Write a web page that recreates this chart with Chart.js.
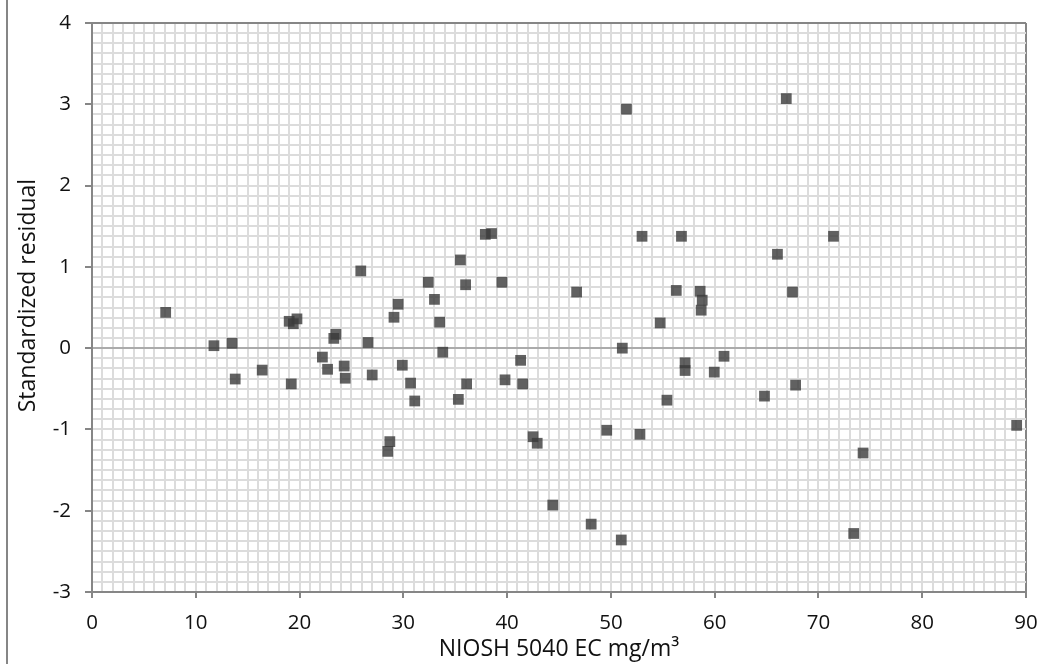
<!DOCTYPE html>
<html>
<head>
<meta charset="utf-8">
<script src="https://cdn.jsdelivr.net/npm/chart.js@4.4.1/dist/chart.umd.min.js"></script>
<style>
  html, body { margin: 0; padding: 0; background: #fff; }
  #wrap { position: relative; width: 1045px; height: 664px; }
  #edge { position: absolute; left: 6px; top: 0; width: 2px; height: 664px; background: #868686; }
</style>
</head>
<body>
<div id="wrap">
  <div id="edge"></div>
  <canvas id="residualChart" width="1045" height="664"></canvas>
</div>
<script>
// NIOSH 5040 EC (mg/m3) vs standardized residual
const ecValues = [
  7.1, 11.75, 13.5, 13.8, 16.4, 19.2, 19.0, 19.4, 19.75, 22.2,
  22.7, 23.5, 23.3, 24.3, 24.4, 25.9, 26.6, 27.0, 28.7, 28.5,
  29.1, 29.5, 29.9, 30.7, 31.1, 32.4, 33.0, 33.5, 33.8, 35.3,
  35.5, 36.0, 36.1, 37.9, 38.5, 39.5, 39.8, 41.3, 41.5, 42.5,
  42.9, 44.4, 46.7, 48.1, 49.6, 51.0, 51.1, 51.5, 52.8, 53.0,
  54.75, 55.4, 56.3, 56.8, 57.15, 57.15, 58.6, 58.8, 58.7, 59.96,
  60.9, 64.8, 66.05, 66.9, 67.5, 67.8, 71.45, 73.4, 74.3, 89.1
];
const residuals = [
  0.44, 0.03, 0.06, -0.38, -0.27, -0.44, 0.33, 0.30, 0.36, -0.11,
  -0.26, 0.17, 0.12, -0.22, -0.37, 0.95, 0.07, -0.33, -1.15, -1.27,
  0.38, 0.54, -0.21, -0.43, -0.65, 0.81, 0.60, 0.32, -0.05, -0.63,
  1.085, 0.78, -0.44, 1.40, 1.41, 0.81, -0.39, -0.15, -0.44, -1.09,
  -1.17, -1.93, 0.69, -2.165, -1.01, -2.36, 0.0, 2.94, -1.06, 1.376,
  0.31, -0.64, 0.71, 1.376, -0.18, -0.275, 0.70, 0.59, 0.467, -0.295,
  -0.10, -0.59, 1.155, 3.07, 0.69, -0.455, 1.376, -2.28, -1.29, -0.95
];
const xAxisRange = [0, 90];
const yAxisRange = [-3, 4];
const xTitle = "NIOSH 5040 EC mg/m\u00B3";
// leading spaces nudge the rotated title up a little, like the original
const yTitle = "\u00A0\u00A0\u00A0\u00A0Standardized residual";

const axisGrey = "#868686";
const gridGrey = "#dcdcdc";
const fontFamily = "'Open Sans', sans-serif";

// keep the plot box where the original has it, whatever the label sizes
function fixX(s) {
  s.height = 72;
  s.paddingLeft = 0;
  s.paddingRight = 0;
}
function fixY(s) {
  s.width = 81;
  s.paddingTop = 0;
  s.paddingBottom = 0;
}

new Chart(document.getElementById("residualChart"), {
  type: "scatter",
  data: {
    datasets: [{
      data: ecValues.map((x, i) => ({ x: x, y: residuals[i] })),
      pointStyle: "rect",
      pointRadius: 7.6,
      pointHoverRadius: 7.6,
      backgroundColor: "rgba(58,58,58,0.8)",
      borderWidth: 0
    }]
  },
  options: {
    responsive: false,
    animation: false,
    layout: { padding: { left: 11, top: 23, right: 19, bottom: 0 } },
    plugins: { legend: { display: false }, tooltip: { enabled: false } },
    scales: {
      x: {
        type: "linear",
        min: xAxisRange[0],
        max: xAxisRange[1],
        afterFit: fixX,
        border: { color: axisGrey, width: 2 },
        grid: {
          color: c => c.tick.value === xAxisRange[1] ? axisGrey : gridGrey,
          lineWidth: 2,
          tickColor: c => c.tick.value % 10 === 0 ? axisGrey : "rgba(0,0,0,0)",
          tickLength: 6,
          tickWidth: 2
        },
        ticks: {
          stepSize: 1,
          autoSkip: false,
          maxRotation: 0,
          padding: 13,
          color: "#111",
          font: { family: fontFamily, size: 20.5 },
          callback: v => v % 10 === 0 ? v : ""
        },
        title: {
          display: true,
          text: xTitle,
          color: "#111",
          font: { family: fontFamily, size: 23 },
          padding: { top: 0, bottom: 1 }
        }
      },
      y: {
        type: "linear",
        min: yAxisRange[0],
        max: yAxisRange[1],
        afterFit: fixY,
        border: { color: axisGrey, width: 2 },
        grid: {
          color: c => c.tick.value === yAxisRange[1] ? axisGrey : (c.tick.value === 0 ? "#ababab" : gridGrey),
          lineWidth: 2,
          tickColor: c => Number.isInteger(c.tick.value) ? axisGrey : "rgba(0,0,0,0)",
          tickLength: 7,
          tickWidth: 2
        },
        ticks: {
          stepSize: 0.125,
          autoSkip: false,
          padding: 14,
          color: "#111",
          font: { family: fontFamily, size: 20.5 },
          callback: v => Number.isInteger(v) ? v : ""
        },
        title: {
          display: true,
          text: yTitle,
          color: "#111",
          font: { family: fontFamily, size: 23 },
          padding: { top: 4, bottom: 4 }
        }
      }
    }
  }
});
</script>
</body>
</html>
